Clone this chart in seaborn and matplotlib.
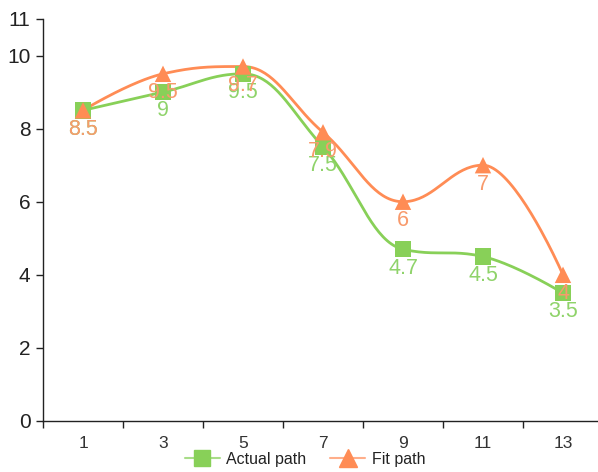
import matplotlib.pyplot as plt
import seaborn as sns
import numpy as np
import pandas as pd

# chart data
steps = ["1", "3", "5", "7", "9", "11", "13"]
actual_path = [8.5, 9, 9.5, 7.5, 4.7, 4.5, 3.5]
fit_path = [8.5, 9.5, 9.7, 7.9, 6, 7, 4]

GREEN = "#88d058"
ORANGE = "#ff8c55"
GREEN_TXT = "#8fd36a"
ORANGE_TXT = "#f89a6c"

sns.set_style("white")
plt.rcParams["font.family"] = ["Liberation Sans", "DejaVu Sans"]


def spline(y, n=40):
    """Bezier spline through the points, no false extremes (drawing only)."""
    y = np.asarray(y, dtype=float)
    x = np.arange(len(y), dtype=float)
    k = 1.5
    left, right = [None] * len(y), [None] * len(y)
    left[0] = right[0] = (x[0], y[0])
    left[-1] = right[-1] = (x[-1], y[-1])
    for i in range(1, len(y) - 1):
        lx = (k * x[i] + x[i - 1]) / (k + 1)
        ly = (k * y[i] + y[i - 1]) / (k + 1)
        rx = (k * x[i] + x[i + 1]) / (k + 1)
        ry = (k * y[i] + y[i + 1]) / (k + 1)
        corr = (ry - ly) * (rx - x[i]) / (rx - lx) + y[i] - ry
        ly += corr
        ry += corr
        if ly > y[i - 1] and ly > y[i]:
            ly = max(y[i - 1], y[i]); ry = 2 * y[i] - ly
        elif ly < y[i - 1] and ly < y[i]:
            ly = min(y[i - 1], y[i]); ry = 2 * y[i] - ly
        if ry > y[i + 1] and ry > y[i]:
            ry = max(y[i + 1], y[i]); ly = 2 * y[i] - ry
        elif ry < y[i + 1] and ry < y[i]:
            ry = min(y[i + 1], y[i]); ly = 2 * y[i] - ry
        left[i] = (lx, ly)
        right[i] = (rx, ry)
    t = np.linspace(0, 1, n)[:, None]
    pts = []
    for i in range(len(y) - 1):
        p0 = np.array([x[i], y[i]])
        p1 = np.array(right[i])
        p2 = np.array(left[i + 1])
        p3 = np.array([x[i + 1], y[i + 1]])
        seg = (1 - t) ** 3 * p0 + 3 * (1 - t) ** 2 * t * p1 + 3 * (1 - t) * t ** 2 * p2 + t ** 3 * p3
        pts.append(seg if i == 0 else seg[1:])
    pts = np.vstack(pts)
    return pts[:, 0], pts[:, 1]


fig = plt.figure(figsize=(5.98, 4.72), dpi=100)
ax = fig.add_axes([43 / 598, 51 / 472, 560 / 598, 402 / 472])

series = [
    ("Actual path", actual_path, GREEN, GREEN_TXT, "s"),
    ("Fit path", fit_path, ORANGE, ORANGE_TXT, "^"),
]

for name, vals, col, txt, mk in series:
    sx, sy = spline(vals)
    sns.lineplot(x=sx, y=sy, ax=ax, color=col, linewidth=2, sort=False)
    df = pd.DataFrame({"x": np.arange(len(vals)), "y": vals})
    sns.scatterplot(data=df, x="x", y="y", ax=ax, color=col, marker=mk,
                    s=140, edgecolor="none", zorder=3)

for name, vals, col, txt, mk in series:
    for i, v in enumerate(vals):
        ax.annotate(f"{v:g}", (i, v), xytext=(0, -6), textcoords="offset points",
                    ha="center", va="top", fontsize=15.5, color=txt, zorder=4)

ax.set_xlim(-0.5, 6.5)
ax.set_ylim(0, 11)
ax.set_yticks([0, 2, 4, 6, 8, 10, 11])
ax.set_xticks(np.arange(len(steps)))
ax.set_xticklabels(steps)
ax.set_xticks(np.arange(-0.5, 7, 1), minor=True)
ax.tick_params(axis="x", which="major", bottom=False, labelsize=12.5, pad=7,
               labelcolor="#333333")
ax.tick_params(axis="x", which="minor", bottom=True, length=5, width=1,
               direction="out", color="#222222")
ax.tick_params(axis="y", left=True, length=5, width=1, direction="out",
               labelsize=15, color="#222222", pad=4, labelcolor="#222222")
ax.set_xlabel("")
ax.set_ylabel("")
for s in ["top", "right"]:
    ax.spines[s].set_visible(False)
for s in ["left", "bottom"]:
    ax.spines[s].set_color("#222222")
    ax.spines[s].set_linewidth(1)

handles = [
    plt.Line2D([], [], color="#a8dd88", marker="s", markersize=11,
               markerfacecolor=GREEN, markeredgecolor=GREEN, linewidth=1.5),
    plt.Line2D([], [], color="#ffae8a", marker="^", markersize=13,
               markerfacecolor=ORANGE, markeredgecolor=ORANGE, linewidth=1.5),
]
fig.legend(handles, ["Actual path", "Fit path"], loc="lower center",
           bbox_to_anchor=(0.51, -0.02), ncol=2, frameon=False, fontsize=11.5,
           handlelength=2.2, handletextpad=0.4, columnspacing=1.5,
           labelcolor="#222222")

fig.savefig("out.png", dpi=100)
